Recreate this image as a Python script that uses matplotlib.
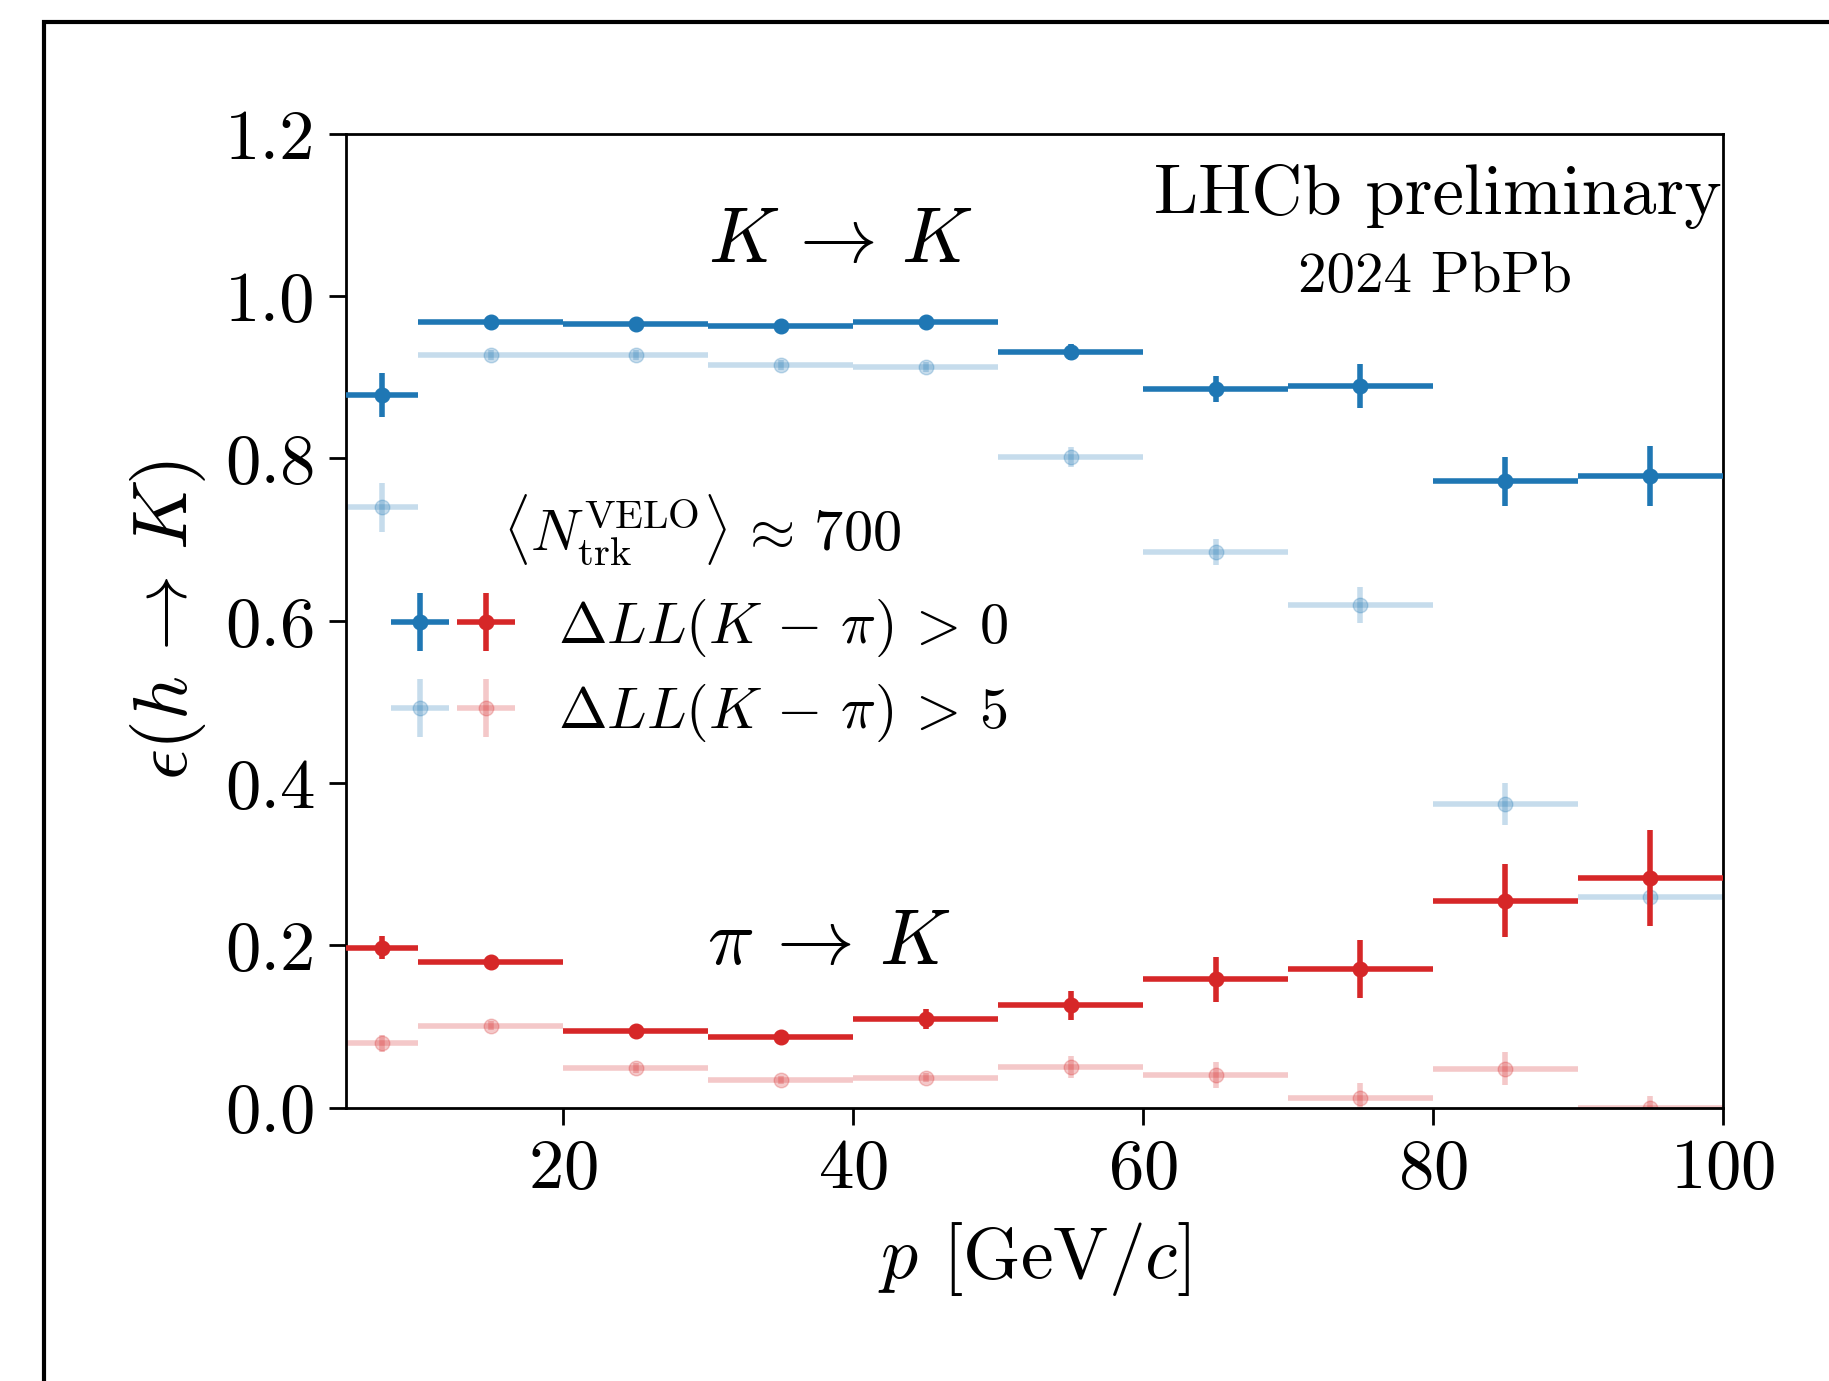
import matplotlib
matplotlib.use("Agg")
import matplotlib.pyplot as plt
import numpy as np
from matplotlib.legend_handler import HandlerTuple
from matplotlib.patches import Rectangle

plt.rcParams['font.family'] = 'serif'
plt.rcParams['font.serif'] = ['cmr10']
plt.rcParams['mathtext.fontset'] = 'cm'
plt.rcParams['axes.unicode_minus'] = False
plt.rcParams['axes.formatter.use_mathtext'] = True

# bins in p [GeV/c]
bin_edges = [5, 10, 20, 30, 40, 50, 60, 70, 80, 90, 100]

# K -> K efficiency, DLL(K-pi) > 0
kk_dll0 = [0.878, 0.968, 0.966, 0.963, 0.968, 0.931, 0.886, 0.889, 0.772, 0.778]
kk_dll0_err = [0.027, 0.004, 0.004, 0.004, 0.004, 0.010, 0.016, 0.027, 0.030, 0.037]
# K -> K efficiency, DLL(K-pi) > 5
kk_dll5 = [0.740, 0.928, 0.928, 0.915, 0.913, 0.802, 0.685, 0.619, 0.374, 0.260]
kk_dll5_err = [0.030, 0.006, 0.006, 0.006, 0.006, 0.012, 0.016, 0.022, 0.026, 0.008]
# pi -> K misID, DLL(K-pi) > 0
pk_dll0 = [0.197, 0.180, 0.094, 0.087, 0.109, 0.126, 0.158, 0.171, 0.255, 0.283]
pk_dll0_err = [0.014, 0.005, 0.004, 0.004, 0.012, 0.018, 0.028, 0.036, 0.045, 0.059]
# pi -> K misID, DLL(K-pi) > 5
pk_dll5 = [0.079, 0.101, 0.049, 0.034, 0.037, 0.050, 0.040, 0.012, 0.048, 0.000]
pk_dll5_err = [0.010, 0.006, 0.006, 0.005, 0.005, 0.013, 0.016, 0.018, 0.020, 0.014]

blue = '#1f77b4'
red = '#d62728'

edges = np.array(bin_edges, dtype=float)
centers = 0.5 * (edges[1:] + edges[:-1])
halfw = 0.5 * (edges[1:] - edges[:-1])

fig = plt.figure(figsize=(18.29, 13.81), dpi=100)
ax = fig.add_axes([0.189, 0.198, 0.753, 0.705])

lw = 4.0
ms = 10.5
light_alpha = 0.25

e5b = ax.errorbar(centers, kk_dll5, xerr=halfw, yerr=kk_dll5_err, fmt='o', color=blue,
                  ms=ms, elinewidth=lw, capsize=0, alpha=light_alpha, zorder=2)
e5r = ax.errorbar(centers, pk_dll5, xerr=halfw, yerr=pk_dll5_err, fmt='o', color=red,
                  ms=ms, elinewidth=lw, capsize=0, alpha=light_alpha, zorder=2)
e0b = ax.errorbar(centers, kk_dll0, xerr=halfw, yerr=kk_dll0_err, fmt='o', color=blue,
                  ms=ms, elinewidth=lw, capsize=0, zorder=3)
e0r = ax.errorbar(centers, pk_dll0, xerr=halfw, yerr=pk_dll0_err, fmt='o', color=red,
                  ms=ms, elinewidth=lw, capsize=0, zorder=3)

ax.set_xlim(5, 100)
ax.set_ylim(0, 1.2)
ax.set_xticks([20, 40, 60, 80, 100])
ax.set_yticks([0.0, 0.2, 0.4, 0.6, 0.8, 1.0, 1.2])
ax.set_yticklabels(['0.0', '0.2', '0.4', '0.6', '0.8', '1.0', '1.2'])
ax.tick_params(axis='both', which='major', labelsize=51, length=12, width=2.0, pad=10, direction='out')
for s in ax.spines.values():
    s.set_linewidth(2.0)

ax.set_xlabel(r'$p$ [GeV/$c$]', fontsize=53)
ax.set_ylabel(r'$\epsilon(h \,\rightarrow\, K)$', fontsize=55)
ax.xaxis.set_label_coords(0.5, -0.115)
ax.yaxis.set_label_coords(-0.10, 0.5)

ax.text(0.999, 0.918, 'LHCb preliminary', transform=ax.transAxes, ha='right', va='baseline', fontsize=51)
ax.text(0.791, 0.838, '2024 PbPb', transform=ax.transAxes, ha='center', va='baseline', fontsize=41)
ax.text(0.359, 0.868, r'$K \,\rightarrow\, K$', transform=ax.transAxes, ha='center', va='baseline', fontsize=56)
ax.text(0.3505, 0.147, r'$\pi \,\rightarrow\, K$', transform=ax.transAxes, ha='center', va='baseline', fontsize=56)

ax.text(0.259, 0.572, r'$\langle N_{\mathrm{trk}}^{\mathrm{VELO}} \rangle \,\approx\, 700$',
        transform=ax.transAxes, ha='center', va='baseline', fontsize=42)

leg = ax.legend([(e0b, e0r), (e5b, e5r)],
                [r'$\Delta LL(K \,-\, \pi) \,>\, 0$', r'$\Delta LL(K \,-\, \pi) \,>\, 5$'],
                handler_map={tuple: HandlerTuple(ndivide=None, pad=0.25)},
                loc='center left', bbox_to_anchor=(0.0356, 0.449), frameon=False,
                fontsize=42, handlelength=2.0, handletextpad=0.8,
                labelspacing=0.4, borderaxespad=0.0, borderpad=0.0)

fig.add_artist(Rectangle((0.024, 0.984 - 2), 2, 2, transform=fig.transFigure,
                         fill=False, edgecolor='black', linewidth=3.0, clip_on=False))

fig.savefig('out.png', dpi=100)
